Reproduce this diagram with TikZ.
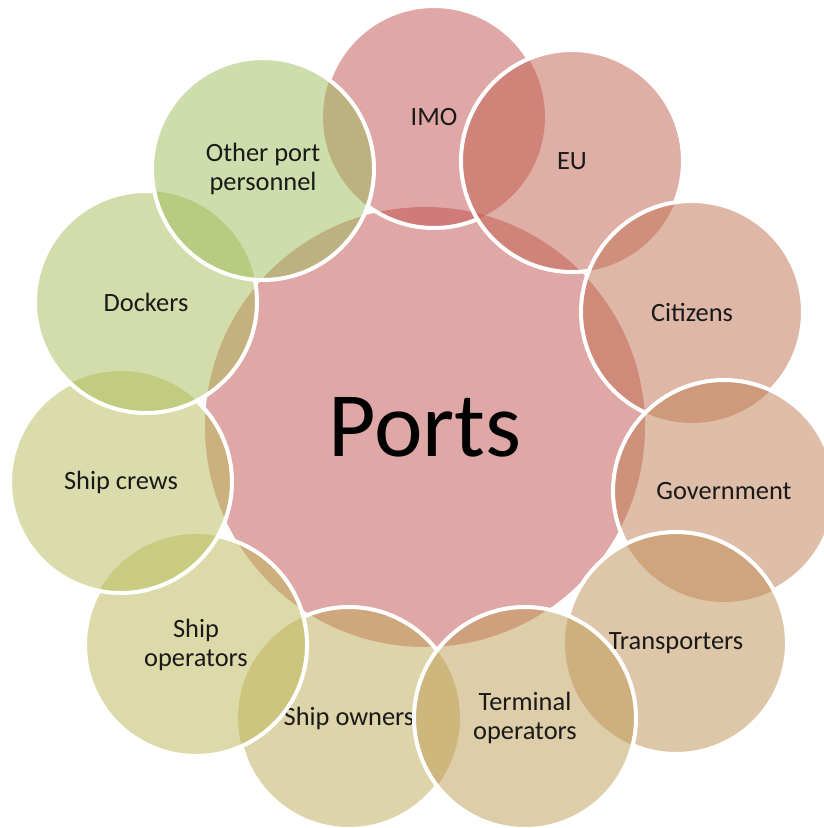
\documentclass[tikz,border=0pt]{standalone}
\usepackage{fontspec}
\setmainfont{Carlito}

% Colour ramp from red to olive, one step per stakeholder
\definecolor{hubfill}{RGB}{192,80,77}
\definecolor{ring0}{RGB}{192,80,77}
\definecolor{ring1}{RGB}{191,96,78}
\definecolor{ring2}{RGB}{191,111,79}
\definecolor{ring3}{RGB}{190,126,81}
\definecolor{ring4}{RGB}{190,141,82}
\definecolor{ring5}{RGB}{189,155,83}
\definecolor{ring6}{RGB}{189,169,84}
\definecolor{ring7}{RGB}{188,182,85}
\definecolor{ring8}{RGB}{181,188,87}
\definecolor{ring9}{RGB}{168,187,88}
\definecolor{ring10}{RGB}{155,187,89}

\tikzset{
  hub/.style={circle, fill=hubfill, fill opacity=0.5, text opacity=1,
    minimum size=330pt, inner sep=0pt, outer sep=0pt, text=black,
    font=\fontsize{69}{80}\selectfont},
  member/.style={circle, fill=#1, fill opacity=0.5, text opacity=1,
    minimum size=166.5pt, inner sep=0pt, outer sep=0pt, align=center,
    text=black!90, font=\fontsize{19.8}{21.4}\selectfont},
  rim/.style={draw=white, line width=3pt},
}

% Keep drawing outside the disc of node #1 (page frame clockwise, disc counter-clockwise)
\newcommand\outsideof[1]{%
  \clip (0,0) -- (824,0) -- (824,828) -- (0,828) -- cycle
        (#1.east) arc[start angle=0, end angle=360, radius=83.25pt];}

% White rim of node #1
\newcommand\rimof[1]{\draw[rim] (#1.center) circle[radius=83.25pt];}

\begin{document}
\begin{tikzpicture}[x=0.75pt, y=-0.75pt]
  \useasboundingbox (0,0) rectangle (824,828);

  % central hub
  \node[hub] (ports) at (425,427) {Ports};

  % stakeholders around the hub, bottom of the stack first
  \node[member=ring6]  (owners)    at (349,718) {Ship owners};
  \node[member=ring0]  (imo)       at (434,117) {IMO};
  \node[member=ring1]  (eu)        at (572,161) {EU};
  \node[member=ring2]  (citizens)  at (692,312) {Citizens};
  \node[member=ring3]  (gov)       at (724,491) {Government};
  \node[member=ring4]  (transp)    at (676,643) {Transporters};
  \node[member=ring5]  (terminal)  at (525,718) {Terminal\\operators};
  \node[member=ring7]  (operators) at (196,645) {Ship\\operators};
  \node[member=ring8]  (crews)     at (121,482) {Ship crews};
  \node[member=ring9]  (dockers)   at (146,302) {Dockers};
  \node[member=ring10] (other)     at (263,169) {Other port\\personnel};

  % rims, hidden wherever a circle higher in the stack lies over them
  \begin{scope}\outsideof{terminal}\outsideof{operators}\rimof{owners}\end{scope}
  \begin{scope}\outsideof{eu}\outsideof{other}\rimof{imo}\end{scope}
  \begin{scope}\outsideof{citizens}\rimof{eu}\end{scope}
  \begin{scope}\outsideof{gov}\rimof{citizens}\end{scope}
  \begin{scope}\outsideof{transp}\rimof{gov}\end{scope}
  \begin{scope}\outsideof{terminal}\rimof{transp}\end{scope}
  \rimof{terminal}
  \begin{scope}\outsideof{crews}\rimof{operators}\end{scope}
  \begin{scope}\outsideof{dockers}\rimof{crews}\end{scope}
  \begin{scope}\outsideof{other}\rimof{dockers}\end{scope}
  \rimof{other}
\end{tikzpicture}
\end{document}
